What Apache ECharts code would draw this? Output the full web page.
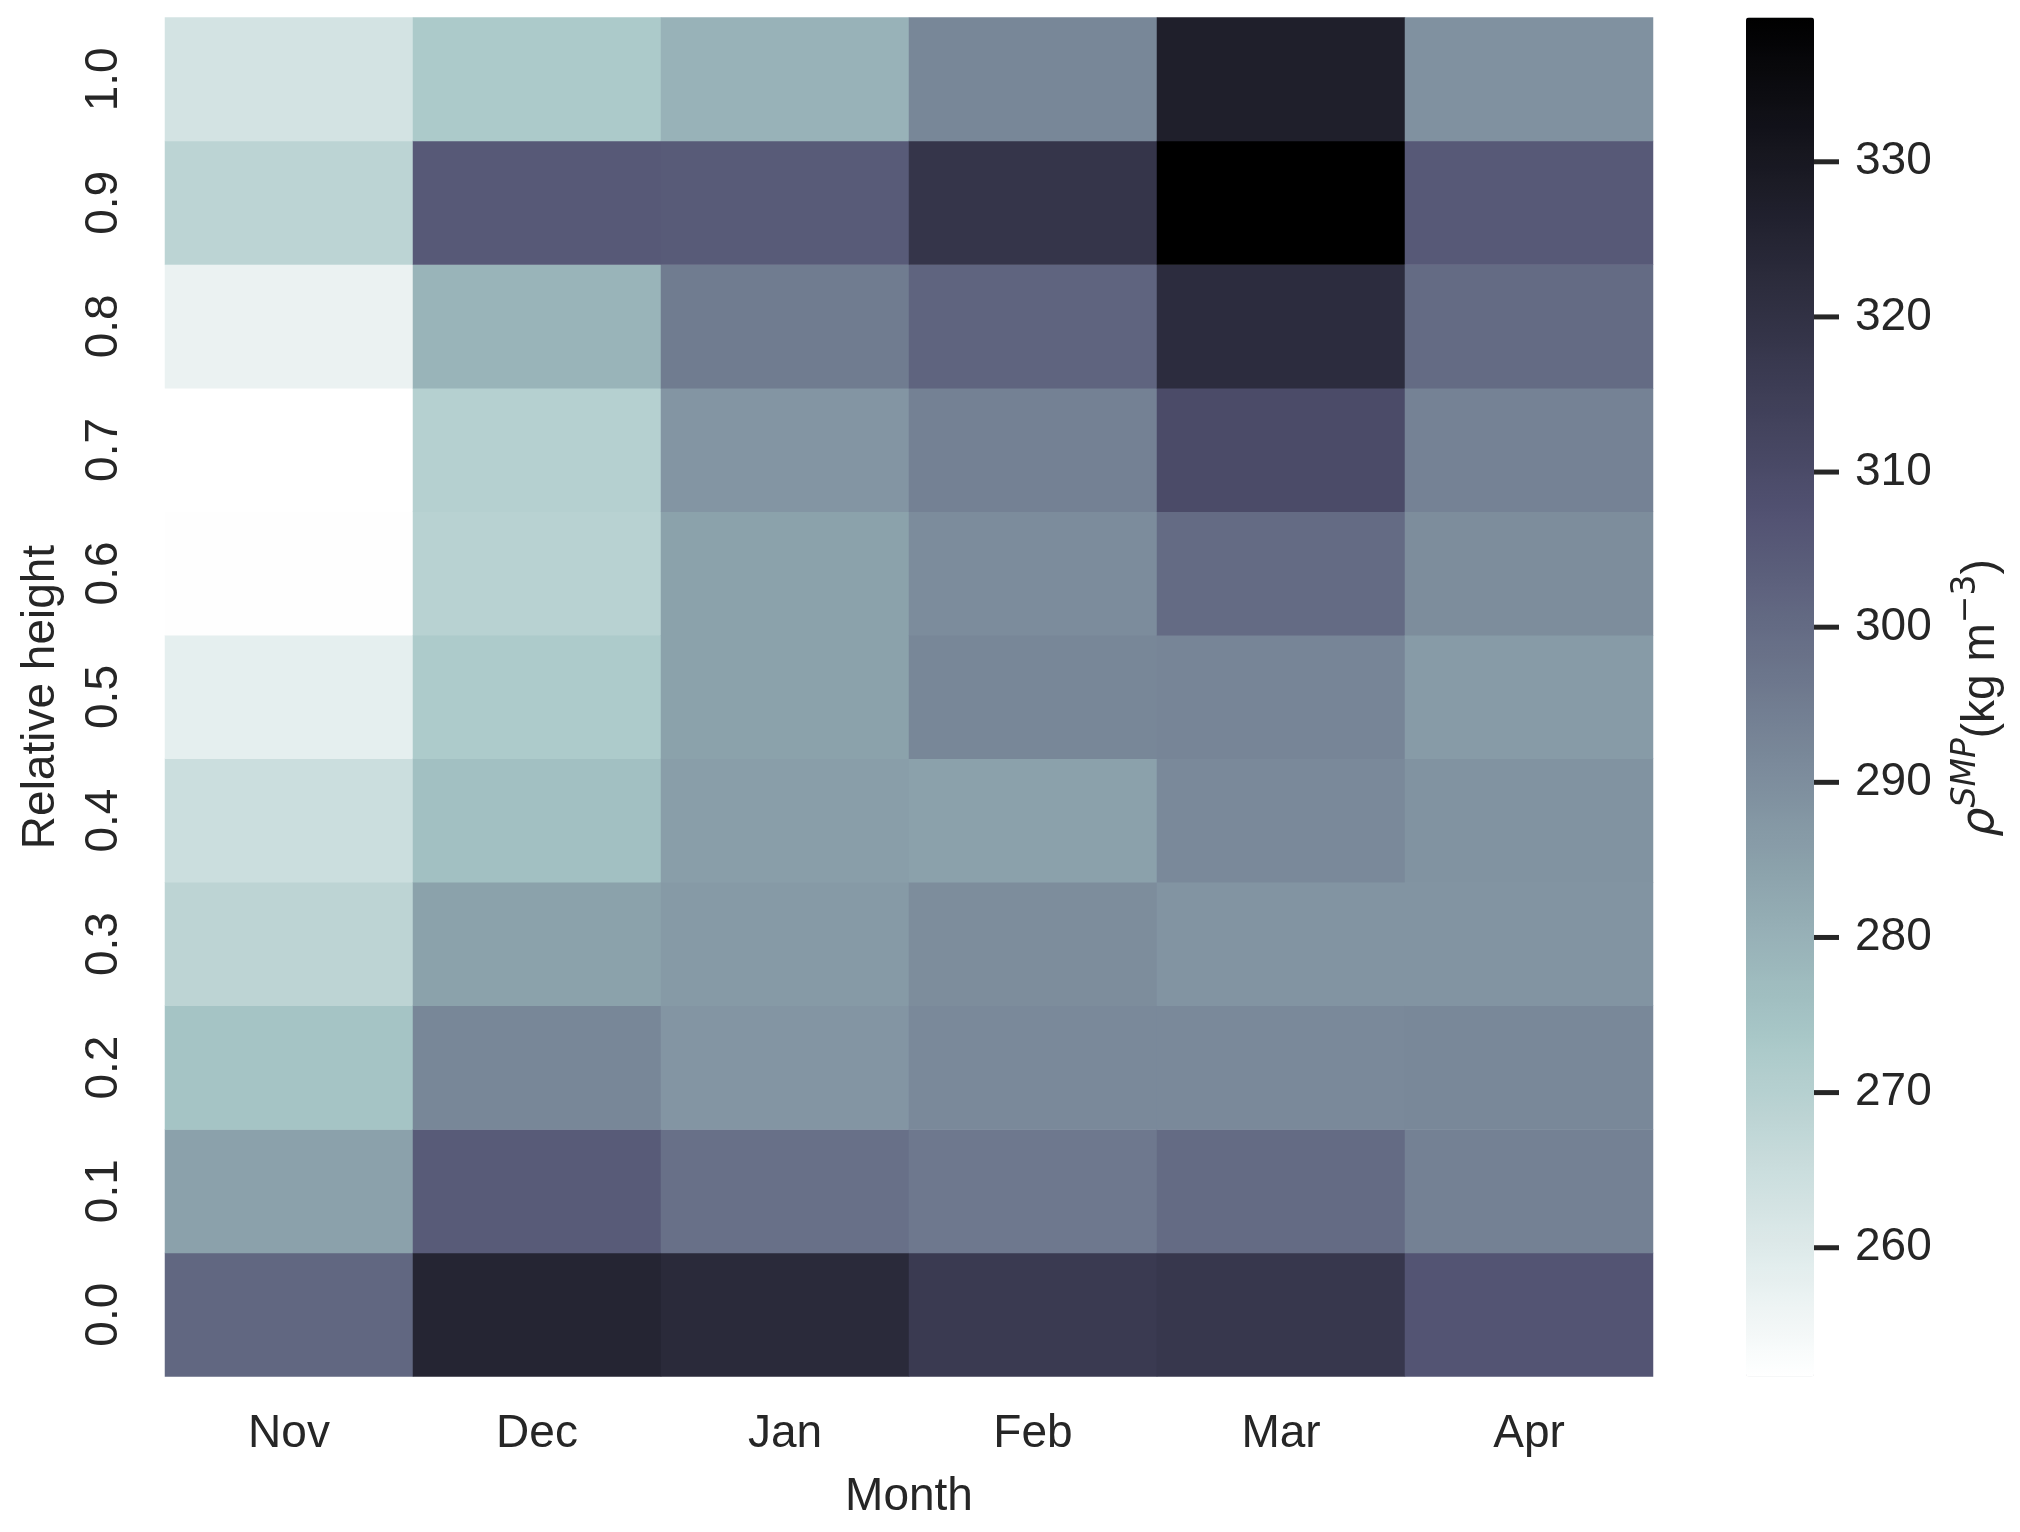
<!DOCTYPE html>
<html>
<head>
<meta charset="utf-8">
<script src="https://cdn.jsdelivr.net/npm/echarts@6/dist/echarts.min.js"></script>
<style>
  html, body { margin: 0; padding: 0; background: #fff; }
  #chart { width: 2020px; height: 1532px; }
</style>
</head>
<body>
<div id="chart"></div>
<script>
// relative heights, bottom to top
const heights = ["0.0", "0.1", "0.2", "0.3", "0.4", "0.5", "0.6", "0.7", "0.8", "0.9", "1.0"];
const months = ["Nov", "Dec", "Jan", "Feb", "Mar", "Apr"];

// snow density per month, from height 0.0 up to 1.0
const nov = [301.2, 284.5, 274.6, 268.4, 264.7, 258.1, 252.0, 251.7, 256.8, 268.6, 262.8];
const dec = [324.8, 304.6, 292.0, 284.4, 275.8, 272.3, 269.4, 270.1, 279.2, 305.1, 272.6];
const jan = [322.8, 298.5, 287.9, 286.7, 285.5, 284.4, 284.4, 287.9, 295.3, 304.6, 279.6];
const feb = [316.5, 296.1, 291.5, 290.5, 284.6, 292.1, 290.6, 293.7, 302.0, 318.4, 292.1];
const mar = [317.7, 300.1, 291.5, 288.3, 291.4, 292.5, 300.1, 309.9, 322.0, 339.3, 327.1];
const apr = [306.7, 293.7, 291.8, 288.3, 288.7, 286.3, 290.5, 293.3, 300.1, 305.2, 289.0];

const cbarTicks = [260, 270, 280, 290, 300, 310, 320, 330];
const vmin = 251.7;
const vmax = 339.3;

const columns = [nov, dec, jan, feb, mar, apr];
const cells = [];
columns.forEach((col, i) => {
    col.forEach((v, j) => cells.push([i, j, v]));
});

// matplotlib "bone_r"
function bone(x) {
    const seg = (pts) => {
        for (let k = 1; k < pts.length; k++) {
            if (x <= pts[k][0]) {
                const [x0, y0] = pts[k - 1];
                const [x1, y1] = pts[k];
                return y0 + (y1 - y0) * (x - x0) / (x1 - x0);
            }
        }
        return pts[pts.length - 1][1];
    };
    const r = seg([[0, 0], [0.746032, 0.652778], [1, 1]]);
    const g = seg([[0, 0], [0.365079, 0.319444], [0.746032, 0.777778], [1, 1]]);
    const b = seg([[0, 0], [0.365079, 0.444444], [1, 1]]);
    return "rgb(" + Math.round(r * 255) + "," + Math.round(g * 255) + "," + Math.round(b * 255) + ")";
}
const ramp = [];
for (let i = 0; i <= 128; i++) ramp.push(bone(1 - i / 128));

const font = "Liberation Sans, Arial, sans-serif";
const textColor = "#262626";
const fs = 46;

const chart = echarts.init(document.getElementById("chart"), null, { renderer: "canvas" });

const option = {
    backgroundColor: "#ffffff",
    animation: false,
    textStyle: { fontFamily: font },
    grid: [
        { left: 165, top: 17.5, width: 1488, height: 1359 },
        { left: 1746, top: 17.5, width: 68, height: 1359 },
    ],
    xAxis: [
        {
            type: "category",
            data: months,
            gridIndex: 0,
            name: "Month",
            nameLocation: "middle",
            nameGap: 98,
            nameMoveOverlap: false,
            nameTextStyle: { fontSize: fs, color: textColor, fontFamily: font },
            axisLine: { show: false },
            axisTick: { show: false },
            splitLine: { show: false },
            axisLabel: { fontSize: fs, color: textColor, margin: 35, fontFamily: font },
        },
        { type: "value", gridIndex: 1, show: false, min: 0, max: 1 },
    ],
    yAxis: [
        {
            type: "category",
            data: heights,
            gridIndex: 0,
            name: "Relative height",
            nameLocation: "middle",
            nameGap: 101,
            nameMoveOverlap: false,
            nameTextStyle: { fontSize: fs, color: textColor, fontFamily: font },
            axisLine: { show: false },
            axisTick: { show: false },
            splitLine: { show: false },
            axisLabel: { fontSize: fs, color: textColor, rotate: 90, margin: 38, fontFamily: font },
        },
        {
            // colorbar scale; tick marks are drawn as part of each label
            type: "value",
            gridIndex: 1,
            position: "right",
            min: vmin,
            max: vmax,
            axisLine: { show: false },
            splitLine: { show: false },
            axisTick: { show: false },
            axisLabel: {
                customValues: cbarTicks,
                margin: 0,
                formatter: (v) => "{t| }{n|" + v + "}",
                rich: {
                    t: { width: 25, height: 5, backgroundColor: textColor, verticalAlign: "middle" },
                    n: {
                        fontSize: fs,
                        color: textColor,
                        fontFamily: font,
                        verticalAlign: "middle",
                        padding: [0, 0, 0, 16],
                    },
                },
            },
        },
    ],
    visualMap: {
        type: "continuous",
        seriesIndex: 0,
        min: vmin,
        max: vmax,
        calculable: false,
        show: true,
        left: 1746,
        top: 17.5,
        padding: 0,
        itemWidth: 68,
        itemHeight: 1359,
        text: null,
        showLabel: false,
        hoverLink: false,
        inRange: { color: ramp },
    },
    graphic: [
        {
            type: "text",
            x: 1977,
            y: 698,
            rotation: Math.PI / 2,
            style: {
                text: "{it|ρ}{sup|SMP}{n|(kg m}{supn|−3}{n|)}",
                align: "center",
                verticalAlign: "middle",
                fill: textColor,
                rich: {
                    it: { fontSize: fs, fontStyle: "italic", fontFamily: "DejaVu Sans", fill: textColor, verticalAlign: "bottom" },
                    n: { fontSize: fs, fontFamily: font, fill: textColor, verticalAlign: "bottom" },
                    sup: { fontSize: 33, fontStyle: "italic", fontFamily: "DejaVu Sans", fill: textColor, verticalAlign: "bottom", padding: [0, 0, 21, 0] },
                    supn: { fontSize: 33, fontFamily: "DejaVu Sans", fill: textColor, verticalAlign: "bottom", padding: [0, 0, 21, 0] },
                },
            },
        },
    ],
    series: [
        {
            type: "heatmap",
            xAxisIndex: 0,
            yAxisIndex: 0,
            data: cells,
            itemStyle: { borderWidth: 0 },
            emphasis: { disabled: true },
        },
    ],
};

chart.setOption(option);
</script>
</body>
</html>
